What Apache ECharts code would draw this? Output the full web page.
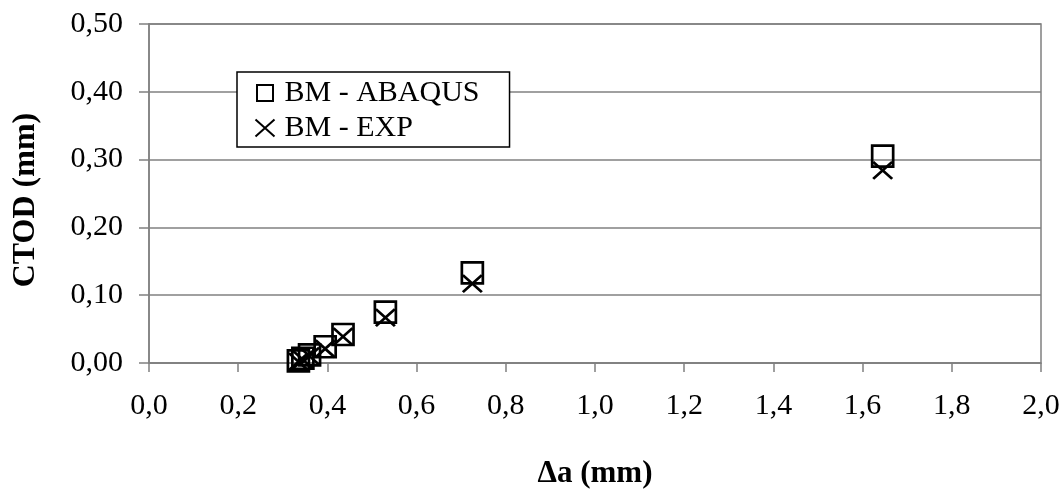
<!DOCTYPE html>
<html>
<head>
<meta charset="utf-8">
<script src="https://cdn.jsdelivr.net/npm/echarts@6/dist/echarts.min.js"></script>
<style>
html,body{margin:0;padding:0;background:#fff;}
#chart{width:1062px;height:490px;}
</style>
</head>
<body>
<div id="chart"></div>
<script>
// Data
const seriesNames = ['BM - ABAQUS', 'BM - EXP'];
const abaqusX = [0.335, 0.345, 0.36, 0.395, 0.435, 0.53, 0.725, 1.645];
const abaqusY = [0.003, 0.007, 0.012, 0.024, 0.042, 0.075, 0.133, 0.305];
const expX    = [0.335, 0.345, 0.36, 0.395, 0.435, 0.53, 0.725, 1.645];
const expY    = [0.002, 0.005, 0.010, 0.021, 0.039, 0.067, 0.117, 0.284];
const xTickLabels = ['0,0','0,2','0,4','0,6','0,8','1,0','1,2','1,4','1,6','1,8','2,0'];
const yTickLabels = ['0,00','0,10','0,20','0,30','0,40','0,50'];
const xAxisTitle = '\u0394a (mm)';
const yAxisTitle = 'CTOD (mm)';

const FONT = '"Liberation Serif", "DejaVu Serif", serif';
const GRID = '#808080';
const squarePath = 'path://M0,0L10,0L10,10L0,10Z';
const crossPath = 'path://M0,0L10,10M10,0L0,10';
// legend icons drawn in a 19x17 box (invisible corner points fix the bounds)
const legendSquare = 'path://M0,0L0,0M1.5,0.5L17.5,0.5L17.5,16.5L1.5,16.5ZM19,17L19,17';
const legendCross = 'path://M0,0L19,17M19,0L0,17';

const chart = echarts.init(document.getElementById('chart'), null, {renderer: 'canvas'});
chart.setOption({
  animation: false,
  backgroundColor: '#fff',
  grid: {left: 149, right: 21, top: 24, bottom: 127, show: true, borderColor: GRID, borderWidth: 1.5,
         containLabel: false, outerBoundsMode: 'none'},
  xAxis: {
    type: 'value', min: 0, max: 2, interval: 0.2,
    name: xAxisTitle, nameLocation: 'middle', nameGap: 95,
    nameTextStyle: {fontFamily: FONT, fontSize: 31, fontWeight: 'bold', color: '#000'},
    axisLine: {show: true, onZero: false, lineStyle: {color: GRID, width: 1.5}},
    axisTick: {show: true, length: 9, lineStyle: {color: GRID, width: 1.5}},
    splitLine: {show: false},
    axisLabel: {fontFamily: FONT, fontSize: 30, color: '#000', margin: 28,
      formatter: (v) => xTickLabels[Math.round(v / 0.2)]}
  },
  yAxis: {
    type: 'value', min: 0, max: 0.5, interval: 0.1,
    name: yAxisTitle, nameLocation: 'middle', nameGap: 107,
    nameTextStyle: {fontFamily: FONT, fontSize: 32, fontWeight: 'bold', color: '#000', padding: [0, 13, 0, 0]},
    axisLine: {show: true, onZero: false, lineStyle: {color: GRID, width: 1.5}},
    axisTick: {show: true, length: 10, lineStyle: {color: GRID, width: 1.5}},
    splitLine: {show: true, lineStyle: {color: GRID, width: 1.5}},
    axisLabel: {fontFamily: FONT, fontSize: 30, color: '#000', margin: 26,
      formatter: (v) => yTickLabels[Math.round(v / 0.1)]}
  },
  legend: {
    orient: 'vertical', left: 237, top: 72,
    padding: [6, 30, 4, 16], itemGap: 5,
    itemWidth: 19, itemHeight: 17,
    backgroundColor: '#fff', borderColor: '#000', borderWidth: 1.5,
    textStyle: {fontFamily: FONT, fontSize: 30, color: '#000', padding: [0, 0, 0, 5], lineHeight: 30},
    data: [
      {name: seriesNames[0], icon: legendSquare, itemStyle: {color: 'none', borderColor: '#000', borderWidth: 2}},
      {name: seriesNames[1], icon: legendCross, itemStyle: {color: 'none', borderColor: '#000', borderWidth: 2}}
    ]
  },
  series: [
    {
      name: seriesNames[0], type: 'scatter',
      data: abaqusX.map((x, i) => [x, abaqusY[i]]),
      symbol: squarePath, symbolSize: 21,
      itemStyle: {color: 'none', borderColor: '#000', borderWidth: 2.7, opacity: 1}
    },
    {
      name: seriesNames[1], type: 'scatter',
      data: expX.map((x, i) => [x, expY[i]]),
      symbol: crossPath, symbolSize: [19, 17],
      itemStyle: {color: 'none', borderColor: '#000', borderWidth: 2.7, opacity: 1}
    }
  ]
});
</script>
</body>
</html>
